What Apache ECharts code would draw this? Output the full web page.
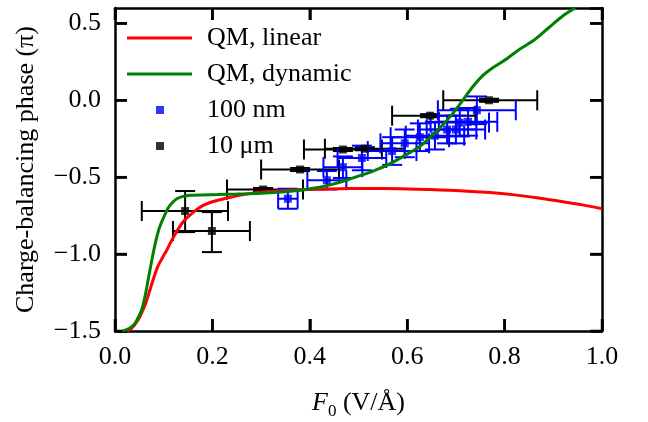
<!DOCTYPE html>
<html>
<head>
<meta charset="utf-8">
<script src="https://cdn.jsdelivr.net/npm/echarts@6/dist/echarts.min.js"></script>
<style>html,body{margin:0;padding:0;background:#fff}#c{width:648px;height:422px}</style>
</head>
<body>
<div id="c"></div>
<script>
// ---- data ----
var xTicks = [0, 0.2, 0.4, 0.6, 0.8, 1.0];
var yTicks = [-1.5, -1.0, -0.5, 0.0, 0.5];

var linearX = [0.025, 0.035, 0.047, 0.055, 0.062, 0.072, 0.08, 0.088, 0.098, 0.107, 0.12, 0.14, 0.16, 0.18, 0.2, 0.23, 0.27, 0.31, 0.36, 0.42, 0.48, 0.55, 0.62, 0.7, 0.77, 0.82, 0.87, 0.92, 0.96, 1.0];
var linearY = [-1.5, -1.48, -1.43, -1.38, -1.33, -1.23, -1.15, -1.08, -1.02, -0.97, -0.89, -0.79, -0.73, -0.685, -0.66, -0.635, -0.61, -0.595, -0.585, -0.578, -0.573, -0.574, -0.578, -0.586, -0.6, -0.615, -0.635, -0.66, -0.68, -0.705];

var dynamicX = [0.015, 0.025, 0.035, 0.041, 0.048, 0.055, 0.062, 0.072, 0.082, 0.09, 0.096, 0.103, 0.109, 0.118, 0.127, 0.14, 0.154, 0.18, 0.21, 0.25, 0.3, 0.35, 0.38, 0.42, 0.448, 0.475, 0.503, 0.53, 0.56, 0.6, 0.63, 0.667, 0.69, 0.714, 0.735, 0.755, 0.775, 0.8, 0.83, 0.86, 0.89, 0.92, 0.945];
var dynamicY = [-1.5, -1.49, -1.47, -1.45, -1.41, -1.36, -1.27, -1.1, -0.94, -0.84, -0.79, -0.74, -0.7, -0.665, -0.64, -0.625, -0.618, -0.615, -0.613, -0.61, -0.605, -0.595, -0.585, -0.565, -0.545, -0.52, -0.49, -0.46, -0.42, -0.35, -0.29, -0.18, -0.1, 0.0, 0.09, 0.16, 0.21, 0.26, 0.33, 0.39, 0.47, 0.55, 0.6];

var nm100X = [0.355, 0.435, 0.468, 0.507, 0.569, 0.595, 0.626, 0.657, 0.682, 0.70, 0.708, 0.725, 0.743];
var nm100Y = [-0.64, -0.52, -0.435, -0.375, -0.33, -0.28, -0.24, -0.23, -0.19, -0.19, -0.145, -0.14, -0.065];
var nm100XErr = [0.02, 0.04, 0.04, 0.05, 0.05, 0.05, 0.06, 0.06, 0.06, 0.06, 0.06, 0.06, 0.08];
var nm100YErr = [0.065, 0.06, 0.07, 0.08, 0.09, 0.09, 0.09, 0.09, 0.09, 0.09, 0.09, 0.09, 0.09];

var um10X = [0.144, 0.199, 0.304, 0.38, 0.468, 0.513, 0.647, 0.768];
var um10Y = [-0.72, -0.85, -0.58, -0.45, -0.32, -0.315, -0.10, 0.0];
var um10XLo = [0.055, 0.119, 0.23, 0.30, 0.388, 0.431, 0.569, 0.674];
var um10XHi = [0.232, 0.277, 0.386, 0.46, 0.548, 0.595, 0.74, 0.867];
var um10YLo = [-0.857, -0.987, -0.59, -0.46, -0.33, -0.325, -0.11, -0.01];
var um10YHi = [-0.59, -0.727, -0.57, -0.44, -0.31, -0.305, -0.09, 0.01];

// ---- build ----
var FONT = 'Liberation Serif';
var X_MIN = 0, X_MAX = 1, Y_MIN = -1.5, Y_MAX = 0.6;
function zip(a, b) { return a.map(function (v, i) { return [v, b[i]]; }); }
var blueErr = nm100X.map(function (x, i) {
  return [x, nm100Y[i], x - nm100XErr[i], x + nm100XErr[i], nm100Y[i] - nm100YErr[i], nm100Y[i] + nm100YErr[i]];
});
var blackErr = um10X.map(function (x, i) {
  return [x, um10Y[i], um10XLo[i], um10XHi[i], um10YLo[i], um10YHi[i]];
});
function errRender(color) {
  return function (params, api) {
    var x = api.value(0), y = api.value(1);
    var xl = api.value(2), xh = api.value(3), yl = api.value(4), yh = api.value(5);
    var pL = api.coord([xl, y]), pR = api.coord([xh, y]);
    var pB = api.coord([x, yl]), pT = api.coord([x, yh]);
    var cap = 10;
    var st = { stroke: color, lineWidth: 2 };
    function ln(x1, y1, x2, y2) { return { type: 'line', shape: { x1: x1, y1: y1, x2: x2, y2: y2 }, style: st }; }
    return { type: 'group', children: [
      ln(pL[0], pL[1], pR[0], pR[1]),
      ln(pB[0], pB[1], pT[0], pT[1]),
      ln(pL[0], pL[1] - cap, pL[0], pL[1] + cap),
      ln(pR[0], pR[1] - cap, pR[0], pR[1] + cap),
      ln(pB[0] - cap, pB[1], pB[0] + cap, pB[1]),
      ln(pT[0] - cap, pT[1], pT[0] + cap, pT[1])
    ] };
  };
}
// inward tick marks on all four sides, placed through the axes' scales
var tickData = xTicks.map(function (v) { return [v, 0]; }).concat(yTicks.map(function (v) { return [v, 1]; }));
function tickRender(params, api) {
  var v = api.value(0), kind = api.value(1), L = 12;
  var st = { stroke: '#000', lineWidth: 2.5 };
  function ln(x1, y1, x2, y2) { return { type: 'line', shape: { x1: x1, y1: y1, x2: x2, y2: y2 }, style: st }; }
  if (kind === 0) {
    var b = api.coord([v, Y_MIN]), t = api.coord([v, Y_MAX]);
    return { type: 'group', children: [ln(b[0], b[1], b[0], b[1] - L), ln(t[0], t[1], t[0], t[1] + L)] };
  }
  var l = api.coord([X_MIN, v]), r = api.coord([X_MAX, v]);
  return { type: 'group', children: [ln(l[0], l[1], l[0] + L, l[1]), ln(r[0], r[1], r[0] - L, r[1])] };
}
function fmt(v) {
  var s = Math.abs(v).toFixed(1);
  return v < -1e-9 ? '\u2212' + s : s;
}
function axisLine() { return { show: true, onZero: false, lineStyle: { color: '#000', width: 2.5 } }; }
function axisTick() { return { show: true, inside: true, length: 12, lineStyle: { color: '#000', width: 2.5 } }; }

var chart = echarts.init(document.getElementById('c'), null, { renderer: 'canvas' });
chart.setOption({
  backgroundColor: '#fff',
  animation: false,
  grid: { left: 115, right: 46, top: 8, bottom: 91, outerBoundsContain: 'axisLabel' },
  legend: [{
    orient: 'vertical', left: 127, top: 25, padding: 0, itemWidth: 65, itemHeight: 3, itemGap: 10,
    textStyle: { fontFamily: FONT, fontSize: 26, color: '#000', padding: [0, 0, 0, 10] },
    data: [{ name: 'QM, linear', icon: 'rect' }, { name: 'QM, dynamic', icon: 'rect' }]
  }, {
    orient: 'vertical', left: 156, top: 97, padding: 0, itemWidth: 8, itemHeight: 8, itemGap: 10,
    textStyle: { fontFamily: FONT, fontSize: 26, color: '#000', padding: [0, 0, 0, 38] },
    data: [{ name: '100 nm', icon: 'rect' }, { name: '10 \u03bcm', icon: 'rect' }]
  }],
  xAxis: [{
    type: 'value', min: X_MIN, max: X_MAX, interval: 0.2, position: 'bottom',
    name: '{i|F}{s|0} (V/\u00c5)', nameLocation: 'middle', nameGap: 56,
    nameTextStyle: { fontFamily: FONT, fontSize: 26, color: '#000',
      rich: { i: { fontFamily: FONT, fontSize: 26, fontStyle: 'italic', color: '#000' },
              s: { fontFamily: FONT, fontSize: 17, color: '#000', padding: [16, 0, 0, 0] } } },
    axisLine: axisLine(), axisTick: axisTick(), splitLine: { show: false },
    axisLabel: { fontFamily: FONT, fontSize: 26, color: '#000', margin: 13, formatter: function (v) { return v.toFixed(1); } }
  }, {
    type: 'value', min: X_MIN, max: X_MAX, interval: 0.2, position: 'top',
    axisLine: axisLine(), axisTick: axisTick(), splitLine: { show: false }, axisLabel: { show: false }
  }],
  yAxis: [{
    type: 'value', min: Y_MIN, max: Y_MAX, interval: 0.5, position: 'left',
    name: 'Charge-balancing phase (\u03c0)', nameLocation: 'middle', nameGap: 76, nameRotate: 90,
    nameTextStyle: { fontFamily: FONT, fontSize: 26, color: '#000' },
    axisLine: axisLine(), axisTick: axisTick(), splitLine: { show: false },
    axisLabel: { fontFamily: FONT, fontSize: 26, color: '#000', margin: 14, showMaxLabel: false, formatter: fmt }
  }, {
    type: 'value', min: Y_MIN, max: Y_MAX, interval: 0.5, position: 'right',
    axisLine: axisLine(), axisTick: axisTick(), splitLine: { show: false }, axisLabel: { show: false }
  }],
  series: [
    { name: 'ticks', type: 'custom', renderItem: tickRender, data: tickData, z: 1, silent: true, clip: false },
    { name: '10 \u03bcm err', type: 'custom', renderItem: errRender('#000'), data: blackErr, z: 2, silent: true, encode: { x: 0, y: 1 } },
    { name: '100 nm err', type: 'custom', renderItem: errRender('#0000ff'), data: blueErr, z: 3, silent: true, encode: { x: 0, y: 1 } },
    { name: '10 \u03bcm', type: 'scatter', symbol: 'rect', symbolSize: 8, itemStyle: { color: '#000' }, data: zip(um10X, um10Y), z: 4 },
    { name: '100 nm', type: 'scatter', symbol: 'rect', symbolSize: 8, itemStyle: { color: '#0000ff' }, data: zip(nm100X, nm100Y), z: 5 },
    { name: 'QM, linear', type: 'line', symbol: 'none', smooth: 0.3, lineStyle: { color: '#ff0000', width: 3 }, itemStyle: { color: '#ff0000' }, data: zip(linearX, linearY), z: 6 },
    { name: 'QM, dynamic', type: 'line', symbol: 'none', smooth: 0.3, lineStyle: { color: '#008000', width: 3 }, itemStyle: { color: '#008000' }, data: zip(dynamicX, dynamicY), z: 7 }
  ]
});
</script>
</body>
</html>
